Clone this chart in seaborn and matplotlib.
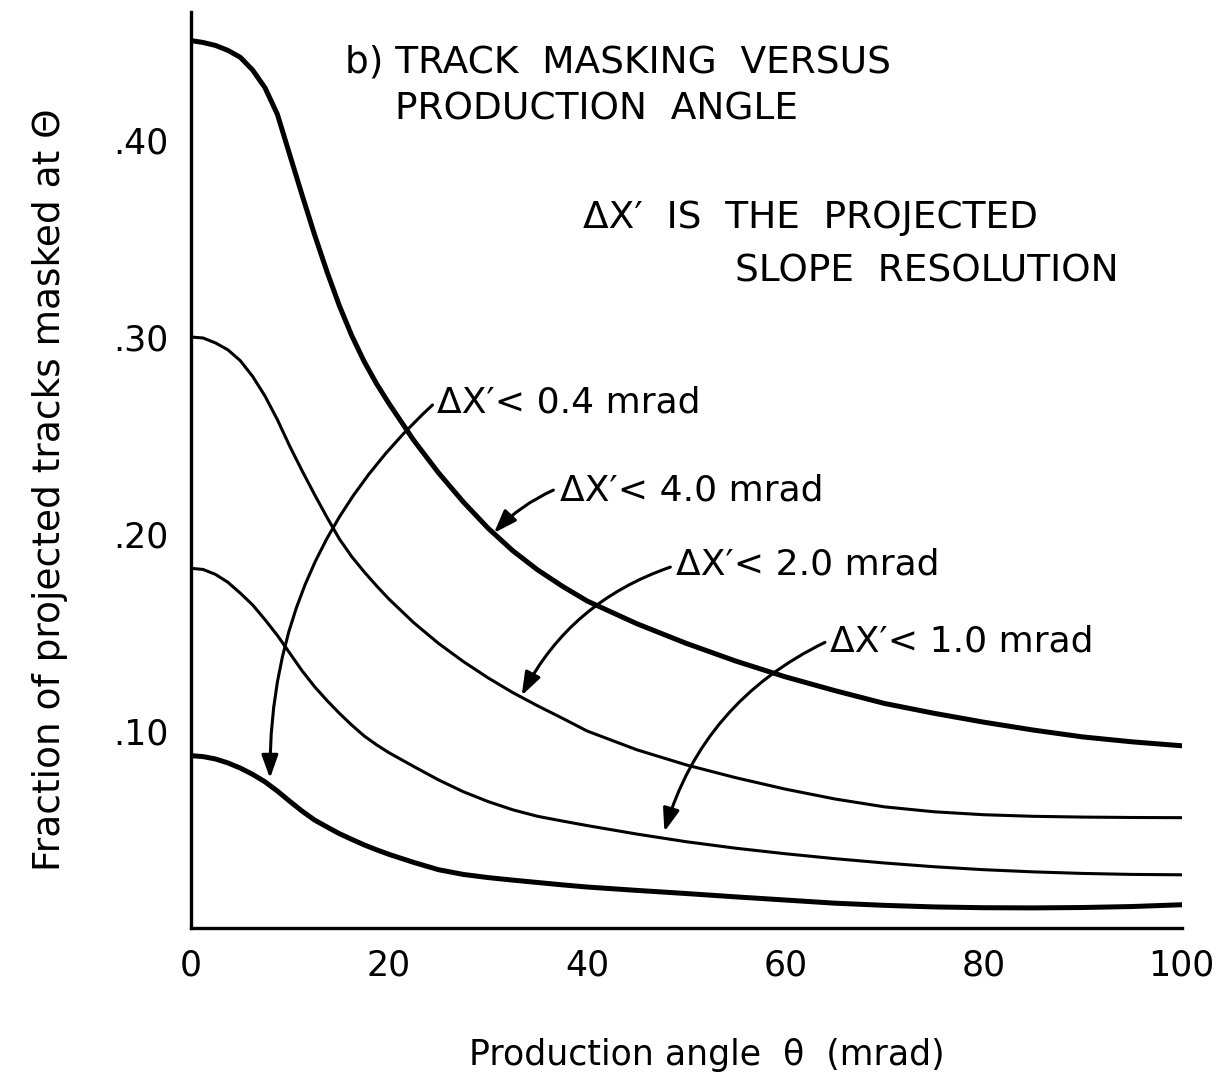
import matplotlib
matplotlib.use("Agg")
import matplotlib.pyplot as plt
import seaborn as sns
import pandas as pd

# ---------------- data ----------------
angle_mrad = [0, 1.25, 2.5, 3.75, 5, 6.25, 7.5, 8.75, 10, 11.25, 12.5, 13.75, 15,
              16.25, 17.5, 18.75, 20, 22.5, 25, 27.5, 30, 32.5, 35, 37.5, 40, 45,
              50, 55, 60, 65, 70, 75, 80, 85, 90, 95, 100]
frac_4_0 = [0.4505, 0.4495, 0.4480, 0.4455, 0.4420, 0.4355, 0.4265, 0.4130, 0.3924,
            0.3719, 0.3519, 0.3332, 0.3159, 0.3007, 0.2876, 0.2763, 0.2663, 0.2476,
            0.2311, 0.2163, 0.2030, 0.1915, 0.1818, 0.1735, 0.1660, 0.1545, 0.1445,
            0.1355, 0.1275, 0.1205, 0.1140, 0.1090, 0.1045, 0.1005, 0.0970, 0.0945,
            0.0925]
frac_2_0 = [0.3000, 0.2995, 0.2970, 0.2935, 0.2880, 0.2800, 0.2700, 0.2580, 0.2445,
            0.2320, 0.2200, 0.2085, 0.1975, 0.1885, 0.1808, 0.1737, 0.1670, 0.1550,
            0.1445, 0.1353, 0.1270, 0.1195, 0.1128, 0.1065, 0.1000, 0.0905, 0.0828,
            0.0763, 0.0705, 0.0655, 0.0615, 0.0590, 0.0575, 0.0567, 0.0563, 0.0561,
            0.0560]
frac_1_0 = [0.1826, 0.1820, 0.1795, 0.1755, 0.1700, 0.1640, 0.1565, 0.1485, 0.1395,
            0.1305, 0.1225, 0.1155, 0.1090, 0.1030, 0.0975, 0.0930, 0.0890, 0.0820,
            0.0752, 0.0692, 0.0642, 0.0600, 0.0567, 0.0543, 0.0520, 0.0477, 0.0438,
            0.0405, 0.0377, 0.0352, 0.0330, 0.0311, 0.0296, 0.0285, 0.0277, 0.0272,
            0.0270]
frac_0_4 = [0.0875, 0.0870, 0.0858, 0.0838, 0.0812, 0.0780, 0.0742, 0.0695, 0.0643,
            0.0593, 0.0548, 0.0513, 0.0479, 0.0450, 0.0422, 0.0397, 0.0374, 0.0333,
            0.0296, 0.0272, 0.0256, 0.0243, 0.0231, 0.0219, 0.0208, 0.0191, 0.0175,
            0.0158, 0.0142, 0.0126, 0.0115, 0.0107, 0.0103, 0.0102, 0.0104, 0.0109,
            0.0118]

series_names = ["4.0", "2.0", "1.0", "0.4"]
series_values = [frac_4_0, frac_2_0, frac_1_0, frac_0_4]
series_thick = [True, False, False, True]

x_ticks = [0, 10, 20, 30, 40, 50, 60, 70, 80, 90, 100]
x_ticklabels = ["0", "", "20", "", "40", "", "60", "", "80", "", "100"]
y_ticks = [0.05, 0.10, 0.15, 0.20, 0.25, 0.30, 0.35, 0.40]
y_ticklabels = ["", ".10", "", ".20", "", ".30", "", ".40"]

# label text, label position (data), arrow start (data), arrow tip (data), curvature
labels = [
    ("ΔX′< 0.4 mrad", (24.9, 0.2665), (24.4, 0.2655), (8.0, 0.076), 0.22),
    ("ΔX′< 4.0 mrad", (37.3, 0.2223), (36.6, 0.2223), (30.6, 0.2005), 0.10),
    ("ΔX′< 2.0 mrad", (49.0, 0.1843), (48.4, 0.1832), (33.4, 0.118), 0.20),
    ("ΔX′< 1.0 mrad", (64.5, 0.1452), (64.0, 0.1450), (47.8, 0.0489), 0.22),
]

# ---------------- figure ----------------
sns.set_theme(style="white")
plt.rcParams["font.family"] = ["DejaVu Sans"]

W, H = 1221, 1078
fig = plt.figure(figsize=(W / 100, H / 100), dpi=100)
fig.patch.set_facecolor("white")

def fx(px):
    return px / W

def fy(py):
    return 1 - py / H

ax = fig.add_axes([fx(190.7), fy(928), (1181.7 - 190.7) / W, (928 - 12) / H])
ax.set_facecolor("white")

for name, vals, thick in zip(series_names, series_values, series_thick):
    df = pd.DataFrame({"angle": angle_mrad, "frac": vals})
    sns.lineplot(data=df, x="angle", y="frac", ax=ax, color="black",
                 linewidth=3.6 if thick else 2.2, solid_capstyle="round",
                 solid_joinstyle="round")

ax.set_xlim(0, 100)
ax.set_ylim(0, (928 - 12) / 1970)

for s in ["top", "right"]:
    ax.spines[s].set_visible(False)
for s in ["left", "bottom"]:
    ax.spines[s].set_linewidth(2.4)
    ax.spines[s].set_color("black")

ax.set_xticks(x_ticks)
ax.set_xticklabels(x_ticklabels)
ax.set_yticks(y_ticks)
ax.set_yticklabels(y_ticklabels)
ax.tick_params(axis="x", direction="in", length=12, width=2.2, pad=15,
               labelsize=25, colors="black")
ax.tick_params(axis="y", direction="in", length=13, width=2.2, pad=16,
               labelsize=25, colors="black")
ax.set_xlabel("")
ax.set_ylabel("")
ax.grid(False)

for text, tpos, start, tip, rad in labels:
    ax.text(tpos[0], tpos[1], text, fontsize=26, ha="left", va="center",
            color="black")
    ax.annotate("", xy=tip, xytext=start,
                arrowprops=dict(arrowstyle="-|>,head_length=0.7,head_width=0.25",
                                connectionstyle=f"arc3,rad={rad}",
                                color="black", lw=2.2, shrinkA=0, shrinkB=0,
                                mutation_scale=20))

# titles / notes
fig.text(fx(345), fy(63), "b) TRACK  MASKING  VERSUS", fontsize=27,
         ha="left", va="center", color="black")
fig.text(fx(395), fy(109), "PRODUCTION  ANGLE", fontsize=27,
         ha="left", va="center", color="black")
fig.text(fx(583), fy(218), "ΔX′  IS  THE  PROJECTED", fontsize=27,
         ha="left", va="center", color="black")
fig.text(fx(735), fy(272), "SLOPE  RESOLUTION", fontsize=27,
         ha="left", va="center", color="black")

fig.text(fx(50), fy(490), "Fraction of projected tracks masked at Θ",
         fontsize=27, rotation=90, ha="center", va="center", color="black")
fig.text(fx(707), fy(1055), "Production angle  θ  (mrad)",
         fontsize=25, ha="center", va="center", color="black")

fig.savefig("out.png", dpi=100, facecolor="white")
